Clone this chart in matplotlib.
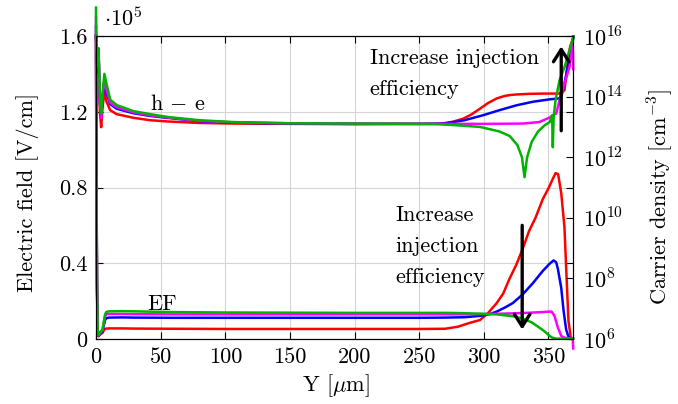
import numpy as np
import matplotlib
matplotlib.use("Agg")
import matplotlib.pyplot as plt
from matplotlib.ticker import NullLocator

plt.rcParams['font.family'] = 'cmr10'
plt.rcParams['mathtext.fontset'] = 'cm'
plt.rcParams['axes.unicode_minus'] = False
plt.rcParams['axes.formatter.use_mathtext'] = True

# ---------------- data ----------------
x_ticks = [0, 50, 100, 150, 200, 250, 300, 350]
ef_ticks = [0, 0.4, 0.8, 1.2, 1.6]
ef_tick_labels = ["0", "0.4", "0.8", "1.2", "1.6"]
n_ticks = [1e6, 1e8, 1e10, 1e12, 1e14, 1e16]
n_tick_labels = [r"$10^{6}$", r"$10^{8}$", r"$10^{10}$", r"$10^{12}$",
                 r"$10^{14}$", r"$10^{16}$"]

# Electric field [1e5 V/cm], front region (shared positions)
ef_x_front = [0, 0.3, 0.8, 1.3, 2, 3, 4, 5, 6, 7, 8, 10, 20, 30, 60, 100, 150, 200, 250]
ef_red_front = [1.6, 0.85, 0.25, 0.035, 0.014, 0.022, 0.028, 0.032, 0.045, 0.053, 0.055,
                0.056, 0.056, 0.055, 0.054, 0.053, 0.053, 0.053, 0.053]
ef_blue_front = [1.65, 0.9, 0.27, 0.04, 0.016, 0.028, 0.034, 0.04, 0.07, 0.1, 0.11,
                 0.113, 0.114, 0.113, 0.112, 0.112, 0.112, 0.112, 0.112]
ef_magenta_front = [1.7, 0.95, 0.28, 0.045, 0.018, 0.03, 0.038, 0.045, 0.08, 0.12, 0.13,
                    0.132, 0.132, 0.131, 0.13, 0.13, 0.13, 0.13, 0.13]
ef_green_front = [1.75, 1.0, 0.3, 0.05, 0.02, 0.035, 0.042, 0.05, 0.09, 0.13, 0.143,
                  0.146, 0.147, 0.146, 0.142, 0.14, 0.139, 0.138, 0.138]

# Electric field, back region
ef_red_x = [270, 280, 289, 297, 303, 310, 315, 320, 325, 330, 335, 340, 345.7, 350, 353,
            355.5, 357.5, 359.9, 362.4, 364, 365.5, 367.3, 369]
ef_red = [0.054, 0.065, 0.085, 0.1, 0.135, 0.19, 0.24, 0.32, 0.39, 0.475, 0.57, 0.64, 0.74,
          0.795, 0.84, 0.876, 0.87, 0.77, 0.59, 0.33, 0.095, 0.007, 0.003]
ef_blue_x = [270, 285, 297, 305, 310, 316, 322.5, 330, 338, 345.7, 351, 354, 356, 357.3,
             359.9, 361.7, 363.7, 365.5, 367, 369]
ef_blue = [0.113, 0.115, 0.122, 0.132, 0.145, 0.165, 0.19, 0.235, 0.295, 0.36, 0.398, 0.415,
           0.405, 0.37, 0.27, 0.15, 0.05, 0.012, 0.003, 0.002]
ef_magenta_x = [270, 290, 310, 330, 345, 351, 352.5, 354.7, 357.3, 359.9, 362.4, 366.3,
                368.8, 369.2]
ef_magenta = [0.13, 0.13, 0.133, 0.137, 0.142, 0.145, 0.144, 0.122, 0.06, 0.016, 0.007,
              0.002, 0.002, -0.05]
ef_green_x = [270, 280, 297, 310, 322.5, 330, 337, 343, 347, 351, 353, 356, 369]
ef_green = [0.138, 0.137, 0.134, 0.13, 0.12, 0.108, 0.088, 0.06, 0.04, 0.016, 0.007, 0.002,
            0.002]

# h - e carrier density, log10 [cm^-3], front region (shared positions)
he_x_front = [0, 1, 2, 3, 4, 5, 6.5, 8, 11, 16, 29, 42, 55, 80, 106, 150, 200]
he_red_front = [16.0, 14.8, 15.5, 13.5, 12.99, 13.6, 14.2, 13.85, 13.55, 13.42, 13.3, 13.22,
                13.18, 13.13, 13.11, 13.1, 13.09]
he_blue_front = [16.0, 15.0, 15.4, 13.8, 13.32, 13.9, 14.43, 14.15, 13.75, 13.6, 13.45, 13.36,
                 13.3, 13.19, 13.14, 13.11, 13.1]
he_magenta_front = [16.0, 15.0, 15.4, 13.8, 13.3, 13.95, 14.55, 14.25, 13.8, 13.65, 13.48,
                    13.38, 13.31, 13.2, 13.15, 13.12, 13.11]
he_green_front = [16.0, 15.2, 15.6, 14.0, 13.45, 14.1, 14.75, 14.45, 13.9, 13.72, 13.52,
                  13.42, 13.33, 13.22, 13.16, 13.12, 13.11]

# h - e, back region
he_red_x = [250, 266, 276, 284, 290, 297, 303, 310, 316, 320, 325, 335, 345, 358.6, 362.4,
            363.7, 365, 366.8, 369.4]
he_red = [13.1, 13.1, 13.17, 13.27, 13.4, 13.6, 13.78, 13.94, 14.02, 14.05, 14.07, 14.09,
          14.1, 14.1, 14.21, 14.65, 15.2, 15.65, 15.98]
he_blue_x = [250, 270, 285, 299, 312, 325, 338, 351, 358.6, 360.5, 362.4, 365, 367.6, 369.4]
he_blue = [13.1, 13.11, 13.22, 13.38, 13.55, 13.71, 13.83, 13.91, 13.94, 14.1, 14.43, 15.0,
           15.54, 15.98]
he_magenta_x = [250, 300, 330, 343, 350.9, 353.4, 356, 358.6, 362.4, 366.3, 368.8, 369.2]
he_magenta = [13.1, 13.1, 13.11, 13.16, 13.31, 13.38, 13.44, 13.88, 14.43, 14.98, 15.76,
              14.9]
he_green_x = [250, 265, 280, 297, 312, 320, 326, 329.5, 331.5, 333.5, 337, 342, 347, 351,
              352.8, 353.4, 354, 355.5, 358.6, 362.4, 366.3, 369.4]
he_green = [13.1, 13.09, 13.05, 13.0, 12.85, 12.7, 12.4, 12.0, 11.34, 12.0, 12.5, 12.85,
            13.05, 13.16, 13.38, 12.33, 13.3, 13.88, 14.54, 14.97, 15.53, 15.98]

colors = {"red": "#ff0000", "blue": "#0000ff", "magenta": "#ff00ff", "green": "#00b300"}

# ---------------- figure ----------------
FS = 16
W, H = 678, 404
fig = plt.figure(figsize=(W / 100, H / 100), dpi=100)
ax = fig.add_axes([96 / W, 65 / H, 477 / W, 303 / H])
ax2 = ax.twinx()

ax.set_xlim(0, 369)
ax.set_ylim(0, 1.6)
ax.set_xticks(x_ticks)
ax.set_xticklabels([str(v) for v in x_ticks])
ax.set_yticks(ef_ticks)
ax.set_yticklabels(ef_tick_labels)
ax.tick_params(direction='in', length=5, width=0.8, top=True, right=True,
               labelsize=FS, pad=6, colors='black')
ax.grid(True, color='#d4d4d4', lw=0.8)
ax.set_axisbelow(True)

ax2.set_yscale('log')
ax2.set_ylim(1e6, 1e16)
ax2.set_yticks(n_ticks)
ax2.set_yticklabels(n_tick_labels)
ax2.yaxis.set_minor_locator(NullLocator())
ax2.tick_params(direction='in', length=5, width=0.8, labelsize=FS, pad=7)

for a in (ax, ax2):
    for s in a.spines.values():
        s.set_linewidth(0.8)
        s.set_color('black')

LW = 1.8
ef_series = [
    ("red", ef_red_front, ef_red_x, ef_red),
    ("blue", ef_blue_front, ef_blue_x, ef_blue),
    ("magenta", ef_magenta_front, ef_magenta_x, ef_magenta),
    ("green", ef_green_front, ef_green_x, ef_green),
]
for name, front, bx, by in ef_series:
    xs = list(ef_x_front) + list(bx)
    ys = list(front) + list(by)
    ax.plot(xs, ys, color=colors[name], lw=LW, clip_on=False)

he_series = [
    ("red", he_red_front, he_red_x, he_red),
    ("blue", he_blue_front, he_blue_x, he_blue),
    ("magenta", he_magenta_front, he_magenta_x, he_magenta),
    ("green", he_green_front, he_green_x, he_green),
]
for name, front, bx, by in he_series:
    xs = list(he_x_front) + list(bx)
    ys = 10.0 ** np.array(list(front) + list(by))
    ax2.plot(xs, ys, color=colors[name], lw=LW, clip_on=False)

# curve labels
ax2.text(63.4, 1.208, r"h $-$ e", transform=ax.transData, fontsize=FS,
         ha='center', va='baseline')
ax2.text(51.4, 0.154, "EF", transform=ax.transData, fontsize=FS,
         ha='center', va='baseline')

# annotations
ax2.text(211.7, 1.452, "Increase injection", transform=ax.transData, fontsize=FS,
         ha='left', va='baseline')
ax2.text(211.7, 1.287, "efficiency", transform=ax.transData, fontsize=FS,
         ha='left', va='baseline')
for txt, yv in (("Increase", 0.625), ("injection", 0.461), ("efficiency", 0.298)):
    ax2.text(231.8, yv, txt, transform=ax.transData, fontsize=FS,
             ha='left', va='baseline')

arrow_kw = dict(arrowstyle='->,head_width=0.35,head_length=0.55', lw=2.4, color='black',
                mutation_scale=16, shrinkA=0, shrinkB=0)
ax2.annotate('', xy=(359.9, 1.545), xycoords=ax.transData,
             xytext=(359.9, 1.10), textcoords=ax.transData, arrowprops=arrow_kw)
ax2.annotate('', xy=(329.7, 0.05), xycoords=ax.transData,
             xytext=(329.7, 0.60), textcoords=ax.transData, arrowprops=arrow_kw)

# axis labels
fig.text(28 / W, 1 - 192 / H, "Electric field [V/cm]", rotation=90, fontsize=FS,
         ha='center', va='center')
fig.text(660 / W, 1 - 197 / H, r"Carrier density [cm$^{-3}$]", rotation=90, fontsize=FS,
         ha='center', va='center')
fig.text(336 / W, 1 - 386 / H, r"Y [$\mu$m]", fontsize=FS, ha='center', va='center')
fig.text(104 / W, 1 - 26 / H, r"$\cdot 10^{5}$", fontsize=FS, ha='left', va='baseline')

fig.savefig("out.png", dpi=100)
